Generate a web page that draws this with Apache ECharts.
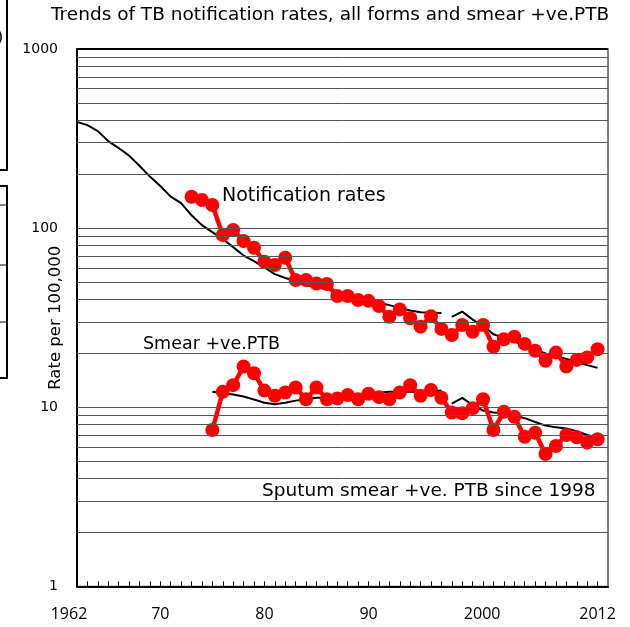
<!DOCTYPE html>
<html><head><meta charset="utf-8">
<script src="https://cdn.jsdelivr.net/npm/echarts@6/dist/echarts.min.js"></script>
<style>html,body{margin:0;padding:0;background:#fff}#c{width:630px;height:627px}</style>
</head><body><div id="c"></div>
<script>
// ---- data ----
const notifYears = [1973,1974,1975,1976,1977,1978,1979,1980,1981,1982,1983,1984,1985,1986,1987,1988,1989,1990,1991,1992,1993,1994,1995,1996,1997,1998,1999,2000,2001,2002,2003,2004,2005,2006,2007,2008,2009,2010,2011,2012];
const notifRates = [149.7,143.5,134.6,91.5,97.6,84.7,77.7,64.9,62.3,68.4,51.3,51.3,49.1,48.8,41.8,41.8,39.7,39.3,36.8,32.0,35.2,31.4,28.2,32.2,27.4,25.3,28.8,26.4,28.8,21.8,24.0,24.8,22.6,20.7,18.2,20.2,16.9,18.4,19.0,21.1];
const smearYears = [1975,1976,1977,1978,1979,1980,1981,1982,1983,1984,1985,1986,1987,1988,1989,1990,1991,1992,1993,1994,1995,1996,1997,1998,1999,2000,2001,2002,2003,2004,2005,2006,2007,2008,2009,2010,2011,2012];
const smearRates = [7.47,12.2,13.3,16.9,15.5,12.4,11.6,12.1,12.9,11.1,12.9,11.1,11.2,11.7,11.1,11.9,11.4,11.1,12.1,13.3,11.6,12.5,11.3,9.35,9.26,9.87,11.1,7.47,9.45,8.86,6.85,7.22,5.49,6.08,7.01,6.80,6.35,6.63];
const trendYearsA = [1962,1963,1964,1965,1966,1967,1968,1969,1970,1971,1972,1973,1974,1975,1976,1977,1978,1979,1980,1981,1982,1983,1984,1985,1986,1987,1988,1989,1990,1991,1992,1993,1994,1995,1996,1997];
const trendNotifA = [392,376,348,306,280,254,223,194,172,150,138,118,104,95,87,78.4,70.3,65.5,60.3,55.4,52.7,50.7,48.1,46.6,45.7,43.7,42.6,41.0,40.0,38.5,37.2,35.8,34.7,33.9,33.7,33.6];
const trendYearsB = [1998,1999,2000,2001,2002,2003,2004,2005,2006,2007,2008,2009,2010,2011,2012];
const trendNotifB = [32.0,34.2,30.9,28.4,25.6,24.4,23.3,22.1,21.0,20.0,19.3,18.6,17.9,17.2,16.6];
const smearTrendYearsA = [1975,1976,1977,1978,1979,1980,1981,1982,1983,1984,1985,1986,1987,1988,1989,1990,1991,1992,1993,1994,1995,1996,1997];
const smearTrendA = [12.2,11.97,11.8,11.5,11.05,10.6,10.4,10.6,10.9,11.1,11.3,11.35,11.5,11.6,11.8,11.9,12.05,12.2,12.2,12.2,12.2,12.25,12.4];
const smearTrendYearsB = [1998,1999,2000,2001,2002,2003,2004,2005,2006,2007,2008,2009,2010,2011,2012];
const smearTrendB = [10.5,11.3,10.3,9.6,9.35,9.26,9.0,8.7,8.28,7.91,7.73,7.61,7.36,7.01,6.74];
const xLabelYears = [1962,1970,1980,1990,2000,2012];
const xLabelTexts = ['1962','70','80','90','2000','2012'];
const yLabelValues = [1,10,100,1000];
const gridValues = [2,3,4,5,6,7,8,9,10,20,30,40,50,60,70,80,90,100,200,300,400,500,600,700,800,900,1000];

const zip = (xs, ys) => xs.map((x, i) => [x, ys[i]]);

const chart = echarts.init(document.getElementById('c'), null, {renderer: 'canvas'});
const trendStyle = {type: 'line', symbol: 'none', lineStyle: {color: '#000', width: 2}, itemStyle: {color: '#000'}, silent: true, z: 3};
const redStyle = {type: 'line', symbol: 'circle', symbolSize: 14, lineStyle: {color: '#ff0000', width: 4.5}, itemStyle: {color: '#ff0000'}, silent: true, z: 4};

chart.setOption({
  animation: false,
  backgroundColor: '#fff',
  grid: {left: 77, right: 22, top: 49, bottom: 40.5, show: true, borderColor: '#555', borderWidth: 1.5,
    containLabel: false, outerBoundsMode: 'none'},
  xAxis: {
    type: 'value', min: 1962, max: 2013, interval: 1,
    axisLine: {show: true, lineStyle: {color: '#000', width: 2}},
    axisTick: {show: true, inside: true, length: 5, lineStyle: {color: '#000', width: 1}},
    splitLine: {show: false},
    axisLabel: {
      show: true, interval: 0, margin: 20, showMaxLabel: false,
      fontFamily: 'Open Sans', fontSize: 16, color: '#000',
      formatter: function (v) {
        const i = xLabelYears.indexOf(v);
        if (i < 0) return '';
        if (v === 1962) return '{l|' + xLabelTexts[i] + '}';
        if (v === 2000) return '{r|' + xLabelTexts[i] + '}';
        return xLabelTexts[i];
      },
      rich: {
        l: {fontFamily: 'Open Sans', fontSize: 16, color: '#000', padding: [0, 16, 0, 0]},
        r: {fontFamily: 'Open Sans', fontSize: 16, color: '#000', padding: [0, 0, 0, 19]}
      }
    }
  },
  yAxis: {
    type: 'log', logBase: 10, min: 1, max: 1000,
    name: 'Rate per 100,000', nameLocation: 'middle', nameGap: 13, nameRotate: 90, nameMoveOverlap: false,
    nameTextStyle: {fontFamily: 'DejaVu Sans', fontSize: 16.5, color: '#000'},
    axisLine: {show: true, lineStyle: {color: '#000', width: 2}},
    axisTick: {show: true, inside: true, length: 5, lineStyle: {color: '#000'}},
    splitLine: {show: false},
    axisLabel: {margin: 19, fontFamily: 'DejaVu Sans', fontSize: 14, color: '#000',
      formatter: v => (yLabelValues.indexOf(v) >= 0 ? String(v) : '')}
  },
  graphic: [
    {type: 'text', left: 51, top: 6, style: {text: 'Trends of TB notification rates, all forms and smear +ve.PTB', font: '18.5px "DejaVu Sans"', fill: '#000'}},
    {type: 'text', left: 222, top: 187, style: {text: 'Notification rates', font: '19px "DejaVu Sans"', fill: '#000'}},
    {type: 'text', left: 143, top: 335, style: {text: 'Smear +ve.PTB', font: '17.5px "DejaVu Sans"', fill: '#000'}},
    {type: 'text', left: 262, top: 482, style: {text: 'Sputum smear +ve. PTB since 1998', font: '18.5px "DejaVu Sans"', fill: '#000'}},
    {type: 'line', shape: {x1: 7, y1: 0, x2: 7, y2: 170}, style: {stroke: '#000', lineWidth: 2}},
    {type: 'line', shape: {x1: 0, y1: 170, x2: 8, y2: 170}, style: {stroke: '#000', lineWidth: 2}},
    {type: 'text', left: -3, top: 30, style: {text: ')', font: '16px "DejaVu Sans"', fill: '#000'}},
    {type: 'line', shape: {x1: 7, y1: 186, x2: 7, y2: 378}, style: {stroke: '#000', lineWidth: 2}},
    {type: 'line', shape: {x1: 0, y1: 186, x2: 8, y2: 186}, style: {stroke: '#000', lineWidth: 2}},
    {type: 'line', shape: {x1: 0, y1: 378, x2: 8, y2: 378}, style: {stroke: '#000', lineWidth: 2}},
    {type: 'line', shape: {x1: 0, y1: 205, x2: 7, y2: 205}, style: {stroke: '#000', lineWidth: 1}},
    {type: 'line', shape: {x1: 0, y1: 265, x2: 7, y2: 265}, style: {stroke: '#000', lineWidth: 1}},
    {type: 'line', shape: {x1: 0, y1: 322, x2: 7, y2: 322}, style: {stroke: '#000', lineWidth: 1}}
  ],
  series: [
    Object.assign({}, trendStyle, {
      name: 'grid', data: [], z: 1,
      markLine: {
        silent: true, symbol: 'none', label: {show: false},
        lineStyle: {color: '#555', width: 1, type: 'solid'},
        data: gridValues.map(v => ({yAxis: v, lineStyle: v === 1000 ? {color: '#000', width: 2} : undefined}))
      }
    }),
    Object.assign({}, trendStyle, {name: 'trendA', data: zip(trendYearsA, trendNotifA)}),
    Object.assign({}, trendStyle, {name: 'trendB', data: zip(trendYearsB, trendNotifB)}),
    Object.assign({}, trendStyle, {name: 'smearTrendA', data: zip(smearTrendYearsA, smearTrendA)}),
    Object.assign({}, trendStyle, {name: 'smearTrendB', data: zip(smearTrendYearsB, smearTrendB)}),
    Object.assign({}, redStyle, {name: 'Notification rates', data: zip(notifYears, notifRates)}),
    Object.assign({}, redStyle, {name: 'Smear +ve.PTB', data: zip(smearYears, smearRates)})
  ]
});
</script>
</body></html>
